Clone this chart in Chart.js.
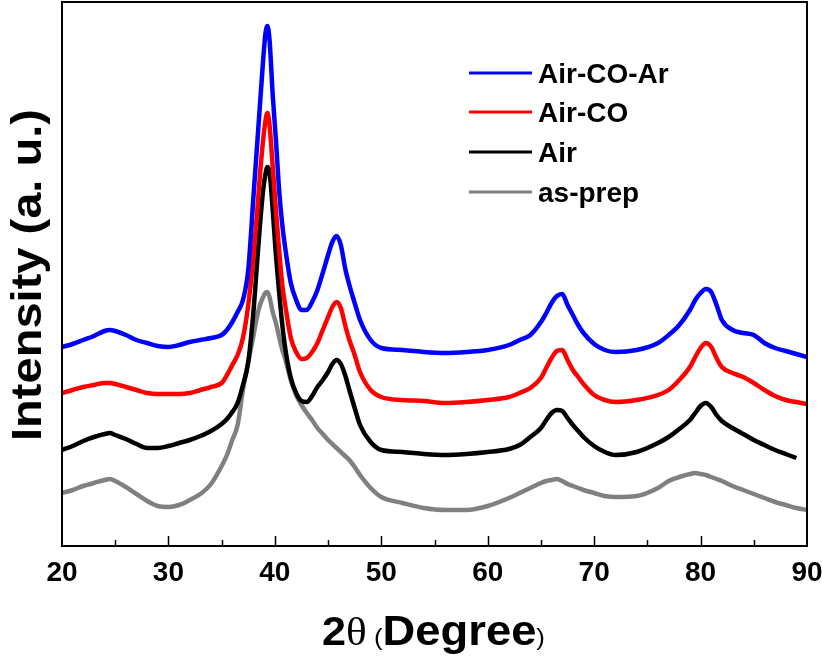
<!DOCTYPE html>
<html>
<head>
<meta charset="utf-8">
<script src="https://cdn.jsdelivr.net/npm/chart.js@4/dist/chart.umd.min.js"></script>
<style>
  html, body { margin: 0; padding: 0; background: #fff; }
  #wrap { width: 822px; height: 657px; }
</style>
</head>
<body>
<div id="wrap"><canvas id="xrd"></canvas></div>
<script>
// 2-theta positions (degrees) where the curves were read
const twoTheta = [20, 21, 22, 23, 24, 24.5, 25, 26, 27, 28, 29, 30, 31, 32, 33, 34, 35, 35.5, 36, 36.5,
  37, 37.5, 38, 38.3, 38.6, 38.9, 39.1, 39.3, 39.5, 39.8, 40.1, 40.4, 40.7, 41, 41.5, 42, 42.5, 43, 43.5, 44,
  44.5, 45, 45.4, 45.8, 46.2, 46.6, 47, 47.5, 48, 49, 50, 52, 54, 56, 58, 60, 62, 63, 64, 65,
  65.5, 66, 66.5, 67, 67.5, 68, 68.5, 69, 70, 71, 72, 74, 76, 77, 78, 79, 79.5, 80, 80.5, 81,
  81.5, 82, 83, 84, 85, 86, 87, 88, 89, 90];

// intensities (a. u.), already offset as in the figure
const airCoAr = [199, 202, 206, 210, 215, 216, 215, 211, 206, 203, 200, 199, 201, 204, 206, 208, 211, 216, 224, 234,
  246, 276, 351, 396, 441, 486, 511, 520, 506, 451, 406, 356, 321, 296, 263, 246, 236, 236, 244, 256,
  273, 291, 304, 310, 301, 278, 261, 243, 226, 206, 198, 196, 194, 193, 194, 196, 201, 206, 211, 224,
  233, 243, 250, 252, 241, 231, 221, 213, 202, 196, 194, 196, 203, 211, 221, 236, 246, 253, 257, 254,
  241, 226, 216, 213, 211, 203, 198, 195, 192, 189];

const airCo = [153, 156, 159, 161, 163, 163, 162, 159, 156, 153, 152, 152, 152, 153, 156, 159, 163, 171, 181, 191,
  208, 241, 291, 329, 371, 406, 424, 433, 421, 379, 336, 296, 261, 239, 208, 194, 187, 188, 194, 203,
  216, 229, 239, 244, 238, 221, 206, 191, 174, 156, 149, 146, 145, 143, 144, 146, 149, 153, 158, 168,
  178, 188, 195, 196, 186, 176, 169, 162, 151, 146, 144, 146, 151, 156, 166, 179, 189, 198, 203, 199,
  188, 179, 173, 169, 163, 156, 150, 146, 144, 142];

const air = [96, 100, 105, 109, 112, 113, 111, 107, 102, 98, 98, 100, 103, 106, 110, 115, 122, 127, 134, 143,
  161, 184, 236, 279, 321, 356, 371, 379, 374, 336, 291, 254, 221, 196, 168, 153, 145, 144, 150, 159,
  166, 174, 182, 186, 182, 171, 156, 138, 121, 104, 96, 94, 92, 91, 92, 94, 97, 101, 109, 118,
  126, 133, 136, 135, 128, 121, 115, 109, 100, 94, 91, 94, 103, 109, 117, 126, 133, 140, 143, 139,
  131, 125, 118, 112, 106, 101, 96, 92, 88, null];

const asPrep = [53, 56, 60, 63, 66, 67, 65, 59, 52, 45, 40, 39, 41, 46, 52, 62, 80, 91, 106, 121,
  156, 184, 211, 228, 241, 249, 253, 254, 249, 234, 223, 209, 196, 186, 166, 151, 141, 133, 126, 118,
  112, 106, 102, 98, 94, 90, 86, 79, 71, 58, 49, 43, 38, 36, 36, 40, 48, 53, 58, 63,
  65, 66, 67, 65, 62, 60, 58, 56, 53, 50, 49, 50, 58, 65, 69, 72, 73, 72, 71, 69,
  67, 65, 60, 56, 52, 48, 44, 41, 38, 36];

const seriesNames = ["Air-CO-Ar", "Air-CO", "Air", "as-prep"];
const seriesColors = ["#0000ff", "#ff0000", "#000000", "#808080"];
const xTicks = [20, 30, 40, 50, 60, 70, 80, 90];

function toPoints(values) {
  return twoTheta.map((t, i) => ({ x: t, y: values[i] }));
}

// frame, inward ticks, axis titles and legend
const decorations = {
  id: "decorations",
  afterDraw(chart) {
    const ctx = chart.ctx;
    const area = chart.chartArea;
    const xs = chart.scales.x;
    ctx.save();
    ctx.strokeStyle = "#000";
    ctx.lineWidth = 2;
    ctx.strokeRect(area.left, area.top, area.right - area.left, area.bottom - area.top);

    ctx.lineWidth = 1.5;
    for (let v = 25; v < 90; v += 5) {
      const px = Math.round(xs.getPixelForValue(v)) + 0.5;
      const len = v % 10 === 0 ? 10 : 6;
      ctx.beginPath();
      ctx.moveTo(px, area.bottom);
      ctx.lineTo(px, area.bottom - len);
      ctx.stroke();
    }

    // x title: 2θ (Degree)
    ctx.fillStyle = "#000";
    ctx.textBaseline = "alphabetic";
    const parts = [
      { t: "2", f: "bold 40px 'Liberation Sans', Arial, sans-serif" },
      { t: "\u03b8", f: "40px 'Liberation Serif', 'Times New Roman', serif" },
      { t: " (", f: "24px 'Liberation Sans', Arial, sans-serif" },
      { t: "Degree", f: "bold 42px 'Liberation Sans', Arial, sans-serif" },
      { t: ")", f: "24px 'Liberation Sans', Arial, sans-serif" }
    ];
    let total = 0;
    parts.forEach(p => { ctx.font = p.f; p.w = ctx.measureText(p.t).width; total += p.w; });
    const sx = 223 / total;
    ctx.save();
    ctx.translate(322, 645);
    ctx.scale(sx, 1);
    let cx = 0;
    parts.forEach(p => { ctx.font = p.f; ctx.fillText(p.t, cx, 0); cx += p.w; });
    ctx.restore();

    // y title
    ctx.save();
    ctx.translate(41, 275);
    ctx.rotate(-Math.PI / 2);
    ctx.scale(1.12, 1);
    ctx.textAlign = "center";
    ctx.font = "bold 42px 'Liberation Sans', Arial, sans-serif";
    ctx.fillText("Intensity (a. u.)", 0, 0);
    ctx.restore();

    // legend
    ctx.font = "bold 28px 'Liberation Sans', Arial, sans-serif";
    ctx.textAlign = "left";
    const rows = [73, 112, 152, 192];
    seriesNames.forEach((name, i) => {
      ctx.strokeStyle = seriesColors[i];
      ctx.lineWidth = 3;
      ctx.beginPath();
      ctx.moveTo(469, rows[i]);
      ctx.lineTo(532, rows[i]);
      ctx.stroke();
      ctx.fillStyle = "#000";
      ctx.fillText(name, 538, rows[i] + 10);
    });
    ctx.restore();
  }
};

new Chart(document.getElementById("xrd"), {
  type: "line",
  data: {
    datasets: [
      { label: seriesNames[0], data: toPoints(airCoAr), borderColor: seriesColors[0] },
      { label: seriesNames[1], data: toPoints(airCo), borderColor: seriesColors[1] },
      { label: seriesNames[2], data: toPoints(air), borderColor: seriesColors[2] },
      { label: seriesNames[3], data: toPoints(asPrep), borderColor: seriesColors[3] }
    ]
  },
  options: {
    responsive: true,
    maintainAspectRatio: false,
    animation: false,
    layout: { padding: { left: 62, right: 15, top: 2, bottom: 61 } },
    elements: {
      point: { radius: 0 },
      line: { borderWidth: 4.5, cubicInterpolationMode: "monotone", fill: false }
    },
    plugins: {
      legend: { display: false },
      tooltip: { enabled: false }
    },
    scales: {
      x: {
        type: "linear",
        min: 20,
        max: 90,
        grid: { display: false },
        border: { display: false },
        afterBuildTicks: axis => { axis.ticks = xTicks.map(v => ({ value: v })); },
        afterFit: axis => {
          axis.paddingLeft = 0;
          axis.paddingRight = 0;
          axis.height = 50;
        },
        ticks: {
          color: "#000",
          padding: 2,
          maxRotation: 0,
          font: { family: "'Liberation Sans', Arial, sans-serif", size: 28, weight: "bold" }
        }
      },
      y: { display: false, min: 0, max: 544 }
    }
  },
  plugins: [decorations]
});
</script>
</body>
</html>
